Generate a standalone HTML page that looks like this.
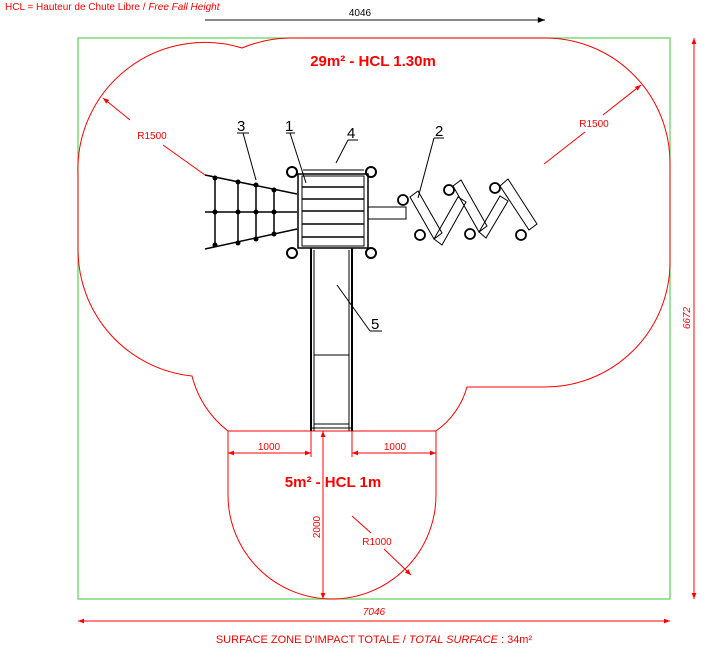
<!DOCTYPE html>
<html><head><meta charset="utf-8"><style>
html,body{margin:0;padding:0;background:#fff;}
svg{display:block;font-family:"Liberation Sans",sans-serif;}
</style></head><body>
<svg width="708" height="660" viewBox="0 0 708 660" xmlns="http://www.w3.org/2000/svg">
<defs>
<marker id="ar" viewBox="0 0 10 10" refX="10" refY="5" markerWidth="8" markerHeight="6" orient="auto-start-reverse"><path d="M0,1 L10,5 L0,9 z" fill="#f00"/></marker>
<marker id="ak" viewBox="0 0 10 10" refX="10" refY="5" markerWidth="8" markerHeight="6" orient="auto-start-reverse"><path d="M0,1 L10,5 L0,9 z" fill="#000"/></marker>
</defs>
<text x="5" y="10" font-size="10" fill="#f00">HCL = Hauteur de Chute Libre / <tspan font-style="italic">Free Fall Height</tspan></text>
<line x1="205" y1="20" x2="545" y2="20" stroke="#444" stroke-width="1.2" marker-end="url(#ak)"/>
<text x="360" y="16" font-size="10" fill="#000" text-anchor="middle">4046</text>
<rect x="78" y="38" width="592" height="561" fill="none" stroke="#5ad35a" stroke-width="1.2"/>
<path d="M78,250 L78,175 A127,127 0 0 1 242,48 A127,127 0 0 1 290,38 L545,38 A125,125 0 0 1 670,163 L670,262 A125,125 0 0 1 545,387 L467,387 A80,80 0 0 1 436,431 L436,495 A104,104 0 0 1 228,495 L228,431 A100,100 0 0 1 192,376 A127,127 0 0 1 78,250 Z" fill="none" stroke="#f00" stroke-width="1"/>
<line x1="228" y1="431" x2="436" y2="431" stroke="#f00" stroke-width="1"/>
<text x="373" y="66" font-size="15" font-weight="bold" fill="#f00" text-anchor="middle">29m² - HCL 1.30m</text>
<text x="333" y="487" font-size="15" font-weight="bold" fill="#f00" text-anchor="middle">5m² - HCL 1m</text>
<line x1="205" y1="175" x2="163" y2="145" stroke="#f00"/>
<line x1="130" y1="120" x2="103" y2="98" stroke="#f00" marker-end="url(#ar)"/>
<text x="152" y="139" font-size="10" fill="#f00" text-anchor="middle">R1500</text>
<line x1="544" y1="164" x2="585" y2="132" stroke="#f00"/>
<line x1="603" y1="115" x2="641" y2="85" stroke="#f00" marker-end="url(#ar)"/>
<text x="594" y="127" font-size="10" fill="#f00" text-anchor="middle">R1500</text>
<line x1="352" y1="516" x2="371" y2="533" stroke="#f00"/>
<line x1="384" y1="549" x2="411" y2="575" stroke="#f00" marker-end="url(#ar)"/>
<text x="377" y="545" font-size="10" fill="#f00" text-anchor="middle">R1000</text>
<line x1="311" y1="431" x2="311" y2="457" stroke="#f00"/>
<line x1="352" y1="431" x2="352" y2="457" stroke="#f00"/>
<line x1="228" y1="453" x2="311" y2="453" stroke="#f00" marker-start="url(#ar)" marker-end="url(#ar)"/>
<line x1="352" y1="453" x2="436" y2="453" stroke="#f00" marker-start="url(#ar)" marker-end="url(#ar)"/>
<text x="269" y="450" font-size="10" fill="#f00" text-anchor="middle">1000</text>
<text x="395" y="450" font-size="10" fill="#f00" text-anchor="middle">1000</text>
<line x1="323" y1="431" x2="323" y2="599" stroke="#f00" marker-start="url(#ar)" marker-end="url(#ar)"/>
<text x="320" y="527" font-size="10" fill="#f00" text-anchor="middle" transform="rotate(-90 320 527)">2000</text>
<line x1="694" y1="38" x2="694" y2="599" stroke="#f00" marker-start="url(#ar)" marker-end="url(#ar)"/>
<text x="690" y="318" font-size="10" fill="#f00" font-style="italic" text-anchor="middle" transform="rotate(-90 690 318)">6672</text>
<line x1="78" y1="621" x2="670" y2="621" stroke="#f00" marker-start="url(#ar)" marker-end="url(#ar)"/>
<text x="374" y="615" font-size="10" fill="#f00" font-style="italic" text-anchor="middle">7046</text>
<text x="374" y="643" font-size="11" fill="#f00" text-anchor="middle">SURFACE ZONE D'IMPACT TOTALE / <tspan font-style="italic">TOTAL SURFACE</tspan> : 34m²</text>

<g stroke="#000" fill="none">
<g stroke-width="1.5">
<line x1="205" y1="175" x2="297" y2="194"/>
<line x1="205" y1="212" x2="297" y2="212"/>
<line x1="205" y1="249" x2="297" y2="229"/>
<line x1="215" y1="178" x2="215" y2="245"/>
<line x1="238" y1="182" x2="238" y2="243"/>
<line x1="256" y1="185" x2="256" y2="239"/>
<line x1="274" y1="190" x2="274" y2="234"/>
</g>
<g fill="#000" stroke="none">
<circle cx="215" cy="178" r="2.5"/><circle cx="238" cy="182" r="2.5"/><circle cx="256" cy="185" r="2.5"/><circle cx="274" cy="190" r="2.5"/>
<circle cx="215" cy="212" r="2.5"/><circle cx="238" cy="212" r="2.5"/><circle cx="256" cy="212" r="2.5"/><circle cx="274" cy="212" r="2.5"/>
<circle cx="215" cy="245" r="2.5"/><circle cx="238" cy="243" r="2.5"/><circle cx="256" cy="239" r="2.5"/><circle cx="274" cy="234" r="2.5"/>
</g>
<rect x="298" y="174" width="70" height="74" stroke-width="1.5"/>
<rect x="302" y="176" width="62" height="70" stroke-width="1"/>
<line x1="303" y1="170" x2="364" y2="170"/>
<g stroke-width="1.5">
<line x1="302" y1="187" x2="364" y2="187"/>
<line x1="302" y1="199" x2="364" y2="199"/>
<line x1="302" y1="211" x2="364" y2="211"/>
<line x1="302" y1="224" x2="364" y2="224"/>
<line x1="302" y1="237" x2="364" y2="237"/>
</g>
<circle cx="292" cy="172" r="5" stroke-width="2"/><circle cx="371" cy="172" r="5" stroke-width="2"/>
<circle cx="292" cy="253" r="5" stroke-width="2"/><circle cx="371" cy="253" r="5" stroke-width="2"/>
<rect x="368" y="207" width="38" height="12"/>
<line x1="311" y1="248" x2="311" y2="431" stroke-width="2"/>
<line x1="352" y1="248" x2="352" y2="431" stroke-width="2"/>
<line x1="314" y1="250" x2="314" y2="431"/>
<line x1="349" y1="250" x2="349" y2="431"/>
<line x1="314" y1="355" x2="349" y2="355"/>
<line x1="314" y1="424" x2="349" y2="424"/>
<line x1="311" y1="428" x2="352" y2="428"/>
<polygon points="410,197 418,191 442,233 434,239"/>
<polygon points="434,239 458,197 466,202 442,245"/>
<polygon points="453,186 461,180 487,226 479,232"/>
<polygon points="479,232 500,196 508,201 486,238"/>
<polygon points="500,186 508,179 537,224 529,230"/>
<circle cx="403" cy="200" r="5" stroke-width="1.8"/>
<circle cx="420" cy="235" r="5" stroke-width="1.8"/>
<circle cx="449" cy="190" r="5" stroke-width="1.8"/>
<circle cx="470" cy="234" r="5" stroke-width="1.8"/>
<circle cx="495" cy="188" r="5" stroke-width="1.8"/>
<circle cx="521" cy="235" r="5" stroke-width="1.8"/>
<line x1="237" y1="133" x2="249" y2="133"/><line x1="243" y1="133" x2="256" y2="180"/>
<line x1="286" y1="133" x2="295" y2="133"/><line x1="290" y1="133" x2="306" y2="183"/>
<line x1="348" y1="140" x2="358" y2="140"/><line x1="348" y1="140" x2="336" y2="163"/>
<line x1="434" y1="138" x2="444" y2="138"/><line x1="434" y1="138" x2="418" y2="198"/>
<line x1="370" y1="331" x2="382" y2="331"/><line x1="370" y1="331" x2="337" y2="285"/>
</g>
<g font-size="15" fill="#000">
<text x="237" y="131">3</text><text x="285" y="131">1</text><text x="347" y="138">4</text><text x="435" y="136">2</text><text x="371" y="329">5</text>
</g>
</svg>
</body></html>
